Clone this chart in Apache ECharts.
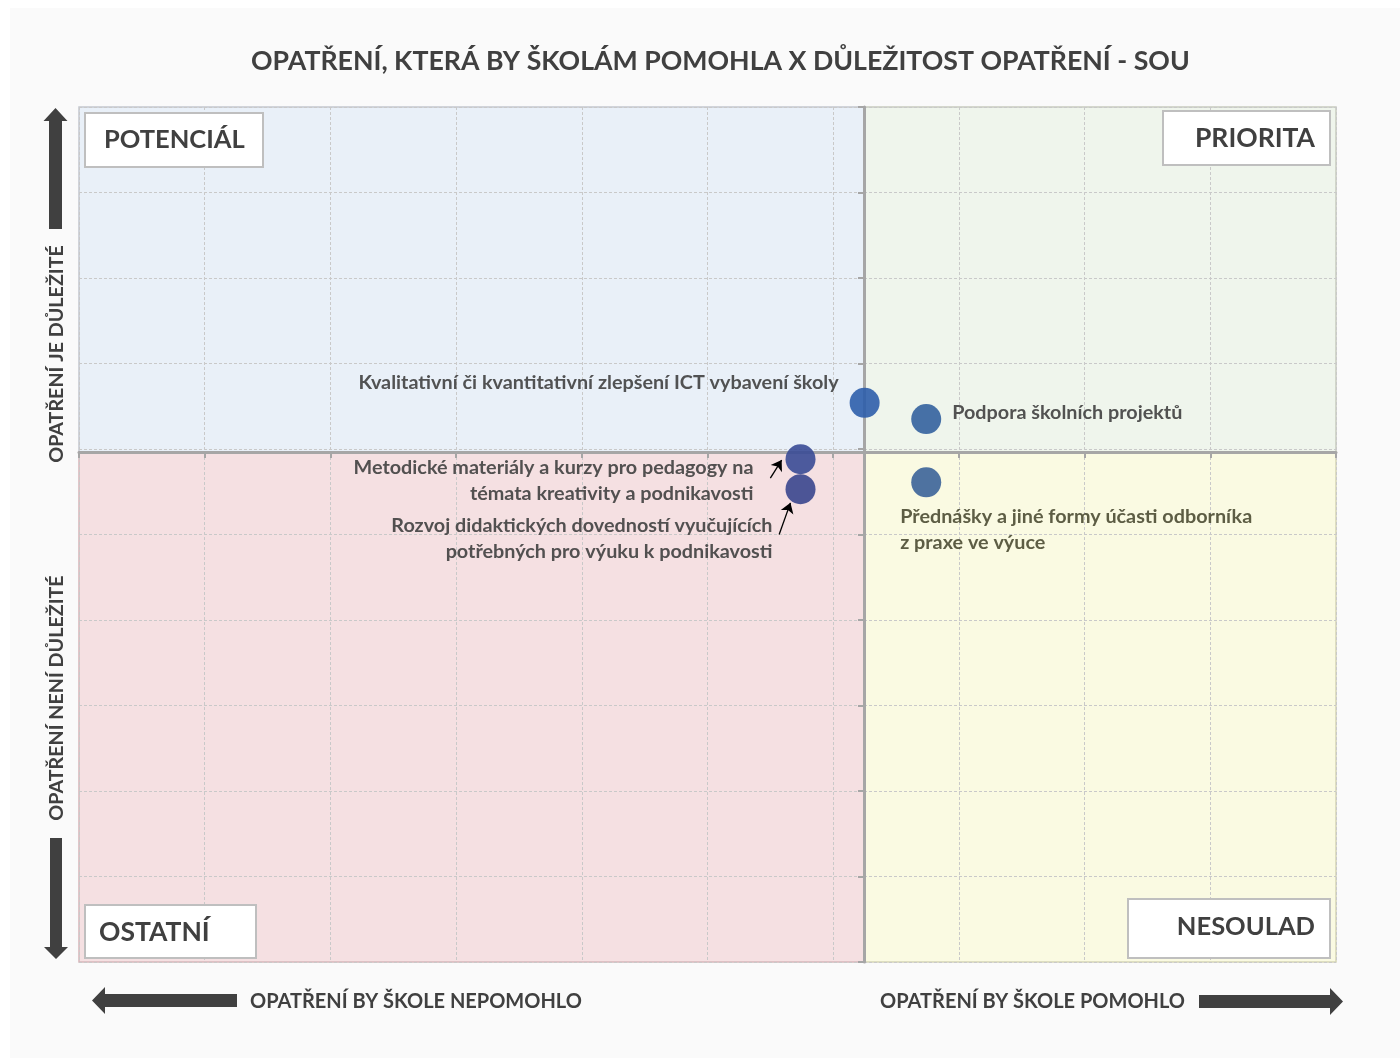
<!DOCTYPE html>
<html>
<head>
<meta charset="utf-8">
<script src="https://cdn.jsdelivr.net/npm/echarts@6/dist/echarts.min.js"></script>
<style>
  html, body { margin: 0; padding: 0; background: #ffffff; }
  #bg { position: absolute; left: 10px; top: 8px; right: 0; bottom: 0; background: #fafafa; }
  #main { position: absolute; left: 0; top: 0; width: 1400px; height: 1058px; }
</style>
</head>
<body>
<div id="bg"></div>
<div id="main"></div>
<script>
// osy 0..10, kříž os (střed kvadrantů)
const xMin = 0, xMax = 10, yMin = 0, yMax = 10;
const crossX = 6.245;
const crossY = 5.965;

const names = [
    'Kvalitativní či kvantitativní zlepšení ICT vybavení školy',
    'Podpora školních projektů',
    'Metodické materiály a kurzy pro pedagogy na\ntémata kreativity a podnikavosti',
    'Rozvoj didaktických dovedností vyučujících\npotřebných pro výuku k podnikavosti',
    'Přednášky a jiné formy účasti odborníka\nz praxe ve výuce'
];
const xValues = [6.25, 6.74, 5.74, 5.74, 6.74];   // pomohlo by škole
const yValues = [6.54, 6.35, 5.88, 5.53, 5.61];   // důležitost
const pointColors = ['#2d5eab', '#33629f', '#3a4b96', '#3a468e', '#3b6399'];

const quadrantLabels = ['POTENCIÁL', 'PRIORITA', 'OSTATNÍ', 'NESOULAD'];

const FONT = 'Lato';
const TEXT = '#404040';

// umístění popisků u jednotlivých bodů
const labelStyles = [
    { position: 'left', distance: 11, offset: [0, -20] },
    { position: 'right', distance: 11, offset: [0, -6] },
    { position: 'left', distance: 32, offset: [0, 21] },
    { position: 'left', distance: 13, offset: [0, 49] },
    { position: [-11, 36], align: 'left', verticalAlign: 'top', color: '#4b4b33' }
];

let points = names.map((n, i) => ({
    name: n,
    value: [xValues[i], yValues[i]],
    itemStyle: { color: pointColors[i], opacity: 0.9 },
    label: Object.assign({
        show: true,
        formatter: n,
        color: TEXT,
        fontFamily: FONT,
        fontWeight: 'bold',
        fontSize: 19.8,
        lineHeight: 26
    }, labelStyles[i])
}));

let myChart = echarts.init(document.getElementById('main'));

const arrowPoly = (pts) => ({ type: 'polygon', shape: { points: pts }, style: { fill: '#404040' }, z: 10 });
const box = (x, y, w, h) => ({ type: 'rect', shape: { x: x, y: y, width: w, height: h }, style: { fill: '#ffffff', stroke: '#bfbfbf', lineWidth: 2 }, z: 20 });
const txt = (t, x, y, align, size, extra) => Object.assign({
    type: 'text', x: x, y: y, z: 21,
    style: { text: t, fill: TEXT, font: 'bold ' + size + 'px ' + FONT, textAlign: align, textVerticalAlign: 'middle' }
}, extra || {});

let option = {
    animation: false,
    title: {
        text: 'OPATŘENÍ, KTERÁ BY ŠKOLÁM POMOHLA X DŮLEŽITOST OPATŘENÍ - SOU',
        left: 246,
        top: 43,
        textStyle: { color: TEXT, fontFamily: FONT, fontWeight: 'bold', fontSize: 26.7 }
    },
    grid: { left: 79, right: 64, top: 107, bottom: 96 },
    xAxis: [
        {
            type: 'value', min: xMin, max: xMax, interval: 1, z: 3,
            axisLine: { show: false }, axisTick: { show: false }, axisLabel: { show: false },
            splitLine: { show: true, lineStyle: { color: '#c9c9c9', type: [3, 2], width: 1 } }
        },
        {   // vodorovná osa v kříži
            type: 'value', min: xMin, max: xMax, interval: 1, position: 'bottom', offset: -(962 - 452), z: 5,
            axisLine: { show: true, onZero: false, lineStyle: { color: '#a6a6a6', width: 3 } },
            axisTick: { show: true, length: 6, lineStyle: { color: '#a6a6a6', width: 2 } },
            axisLabel: { show: false }, splitLine: { show: false }
        }
    ],
    yAxis: [
        {
            type: 'value', min: yMin, max: yMax, interval: 1, z: 3,
            axisLine: { show: false }, axisTick: { show: false }, axisLabel: { show: false },
            splitLine: { show: true, lineStyle: { color: '#c9c9c9', type: [3, 2], width: 1 } }
        },
        {   // svislá osa v kříži
            type: 'value', min: yMin, max: yMax, interval: 1, position: 'left', offset: -(864 - 79), z: 5,
            axisLine: { show: true, onZero: false, lineStyle: { color: '#a6a6a6', width: 3 } },
            axisTick: { show: true, length: 6, lineStyle: { color: '#a6a6a6', width: 2 } },
            axisLabel: { show: false }, splitLine: { show: false }
        }
    ],
    series: [
        {
            // pozadí kvadrantů
            type: 'scatter', data: [], z: 1, silent: true,
            markArea: {
                silent: true,
                data: [
                    [{ coord: [xMin, crossY], itemStyle: { color: '#e9f0f8', borderColor: '#c3c8cf', borderWidth: 1.5 } }, { coord: [crossX, yMax] }],
                    [{ coord: [crossX, crossY], itemStyle: { color: '#eff5ec', borderColor: '#c7ccbf', borderWidth: 1.5 } }, { coord: [xMax, yMax] }],
                    [{ coord: [xMin, yMin], itemStyle: { color: '#f5e0e2', borderColor: '#d6b7bb', borderWidth: 1.5 } }, { coord: [crossX, crossY] }],
                    [{ coord: [crossX, yMin], itemStyle: { color: '#fafae2', borderColor: '#d5d5b5', borderWidth: 1.5 } }, { coord: [xMax, crossY] }]
                ]
            }
        },
        {
            type: 'scatter',
            z: 10,
            symbolSize: 30,
            data: points,
            markLine: {
                silent: true,
                symbol: ['none', 'arrow'],
                symbolSize: 10,
                label: { show: false },
                lineStyle: { color: '#000000', width: 1.3, type: 'solid' },
                data: [
                    [{ coord: [5.50, 5.66] }, { coord: [5.59, 5.87] }],
                    [{ coord: [5.57, 5.00] }, { coord: [5.66, 5.37] }]
                ]
            }
        }
    ],
    graphic: [
        // svislé šipky
        arrowPoly([[55.5, 108], [67.5, 121], [62, 121], [62, 229], [49, 229], [49, 121], [43.5, 121]]),
        arrowPoly([[56, 959], [68, 947], [62, 947], [62, 838], [50, 838], [50, 947], [44, 947]]),
        // vodorovné šipky
        arrowPoly([[92, 1000.5], [105, 987], [105, 994], [237, 994], [237, 1007], [105, 1007], [105, 1014]]),
        arrowPoly([[1343, 1001.5], [1330, 988], [1330, 995], [1199, 995], [1199, 1008], [1330, 1008], [1330, 1015]]),
        // popisky kvadrantů
        box(85, 113, 178, 54), txt(quadrantLabels[0], 104, 140, 'left', 25.5),
        box(1163, 111, 167, 54), txt(quadrantLabels[1], 1315, 138, 'right', 26.5),
        box(85, 905, 171, 53), txt(quadrantLabels[2], 99, 932, 'left', 26.5),
        box(1128, 899, 202, 59), txt(quadrantLabels[3], 1315, 927, 'right', 25.5),
        // názvy os
        txt('OPATŘENÍ JE DŮLEŽITÉ', 57, 354, 'center', 19.7, { rotation: Math.PI / 2 }),
        txt('OPATŘENÍ NENÍ DŮLEŽITÉ', 57, 698, 'center', 19.7, { rotation: Math.PI / 2 }),
        txt('OPATŘENÍ BY ŠKOLE NEPOMOHLO', 250, 1002, 'left', 20),
        txt('OPATŘENÍ BY ŠKOLE POMOHLO', 1185, 1002, 'right', 20)
    ]
};

myChart.setOption(option);
</script>
</body>
</html>
